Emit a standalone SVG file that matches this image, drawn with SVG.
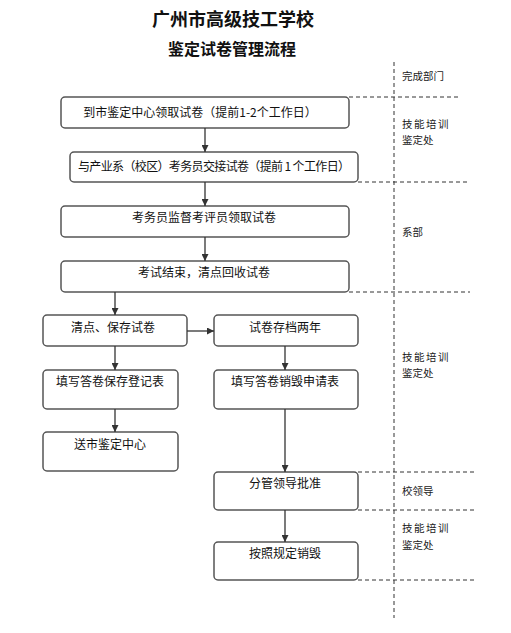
<svg xmlns="http://www.w3.org/2000/svg" width="511" height="633" viewBox="0 0 511 633">
<defs>
<marker id="ah" viewBox="0 0 10 10" refX="10" refY="5" markerWidth="7" markerHeight="7" markerUnits="userSpaceOnUse" orient="auto">
<path d="M0,0 L10,5 L0,10 z" fill="#333"/>
</marker>
<style>
.box{fill:#fff;stroke:#555;stroke-width:1.5}
.t{font-family:"Noto Sans CJK SC","Liberation Sans",sans-serif;font-size:12px;fill:#111;text-anchor:middle}
.lab{font-family:"Noto Sans CJK SC","Liberation Sans",sans-serif;font-size:10.5px;fill:#222}
.title{font-family:"Noto Sans CJK SC","Liberation Sans",sans-serif;font-weight:bold;fill:#111;text-anchor:middle}
.dash{stroke:#333;stroke-width:1;stroke-dasharray:4,3;fill:none}
.con{stroke:#333;stroke-width:1.3;fill:none;marker-end:url(#ah)}
</style>
</defs>
<rect width="511" height="633" fill="#fff"/>
<text class="title" x="233" y="26" font-size="18">广州市高级技工学校</text>
<text class="title" x="232" y="55" font-size="16">鉴定试卷管理流程</text>

<g id="lanes">
<line class="dash" x1="394" y1="62" x2="394" y2="618"/>
<line class="dash" x1="349" y1="97" x2="460" y2="97"/>
<line class="dash" x1="358" y1="182" x2="470" y2="182"/>
<line class="dash" x1="349" y1="292" x2="470" y2="292"/>
<line class="dash" x1="358" y1="472" x2="475" y2="472"/>
<line class="dash" x1="358" y1="510" x2="475" y2="510"/>
<line class="dash" x1="358" y1="580" x2="475" y2="580"/>
<text class="lab" x="402" y="80">完成部门</text>
<text class="lab" x="402" y="128" letter-spacing="1.5">技能培训</text>
<text class="lab" x="402" y="144">鉴定处</text>
<text class="lab" x="402" y="236">系部</text>
<text class="lab" x="402" y="361" letter-spacing="1.5">技能培训</text>
<text class="lab" x="402" y="377">鉴定处</text>
<text class="lab" x="402" y="495">校领导</text>
<text class="lab" x="402" y="532" letter-spacing="1.5">技能培训</text>
<text class="lab" x="402" y="549">鉴定处</text>
</g>

<g id="n1"><rect class="box" x="61" y="97" width="288" height="31" rx="4"/><text class="t" x="200" y="117">到市鉴定中心领取试卷（提前1-2个工作日）</text></g>
<g id="n2"><rect class="box" x="70" y="152" width="288" height="30" rx="4"/><text class="t" x="214" y="171" textLength="272">与产业系（校区）考务员交接试卷（提前 1 个工作日）</text></g>
<g id="n3"><rect class="box" x="61" y="206" width="288" height="31" rx="4"/><text class="t" x="204" y="222">考务员监督考评员领取试卷</text></g>
<g id="n4"><rect class="box" x="61" y="261" width="288" height="31" rx="4"/><text class="t" x="204" y="277">考试结束，清点回收试卷</text></g>
<g id="n5"><rect class="box" x="43" y="315" width="144" height="31" rx="4"/><text class="t" x="113" y="332">清点、保存试卷</text></g>
<g id="n6"><rect class="box" x="214" y="315" width="144" height="31" rx="4"/><text class="t" x="285" y="332">试卷存档两年</text></g>
<g id="n7"><rect class="box" x="43" y="370" width="135" height="39" rx="4"/><text class="t" x="110" y="386">填写答卷保存登记表</text></g>
<g id="n8"><rect class="box" x="214" y="370" width="144" height="39" rx="4"/><text class="t" x="285" y="386">填写答卷销毁申请表</text></g>
<g id="n9"><rect class="box" x="43" y="432" width="135" height="39" rx="4"/><text class="t" x="110" y="449">送市鉴定中心</text></g>
<g id="n10"><rect class="box" x="214" y="472" width="144" height="38" rx="4"/><text class="t" x="285" y="488">分管领导批准</text></g>
<g id="n11"><rect class="box" x="214" y="542" width="144" height="38" rx="4"/><text class="t" x="285" y="558">按照规定销毁</text></g>

<g id="connectors">
<line class="con" x1="205" y1="128" x2="205" y2="152"/>
<line class="con" x1="205" y1="182" x2="205" y2="206"/>
<line class="con" x1="205" y1="237" x2="205" y2="261"/>
<line class="con" x1="115" y1="292" x2="115" y2="315"/>
<line class="con" x1="187" y1="331" x2="214" y2="331"/>
<line class="con" x1="115" y1="346" x2="115" y2="370"/>
<line class="con" x1="285" y1="346" x2="285" y2="370"/>
<line class="con" x1="115" y1="409" x2="115" y2="432"/>
<line class="con" x1="285" y1="409" x2="285" y2="472"/>
<line class="con" x1="285" y1="510" x2="285" y2="542"/>
</g>
</svg>
